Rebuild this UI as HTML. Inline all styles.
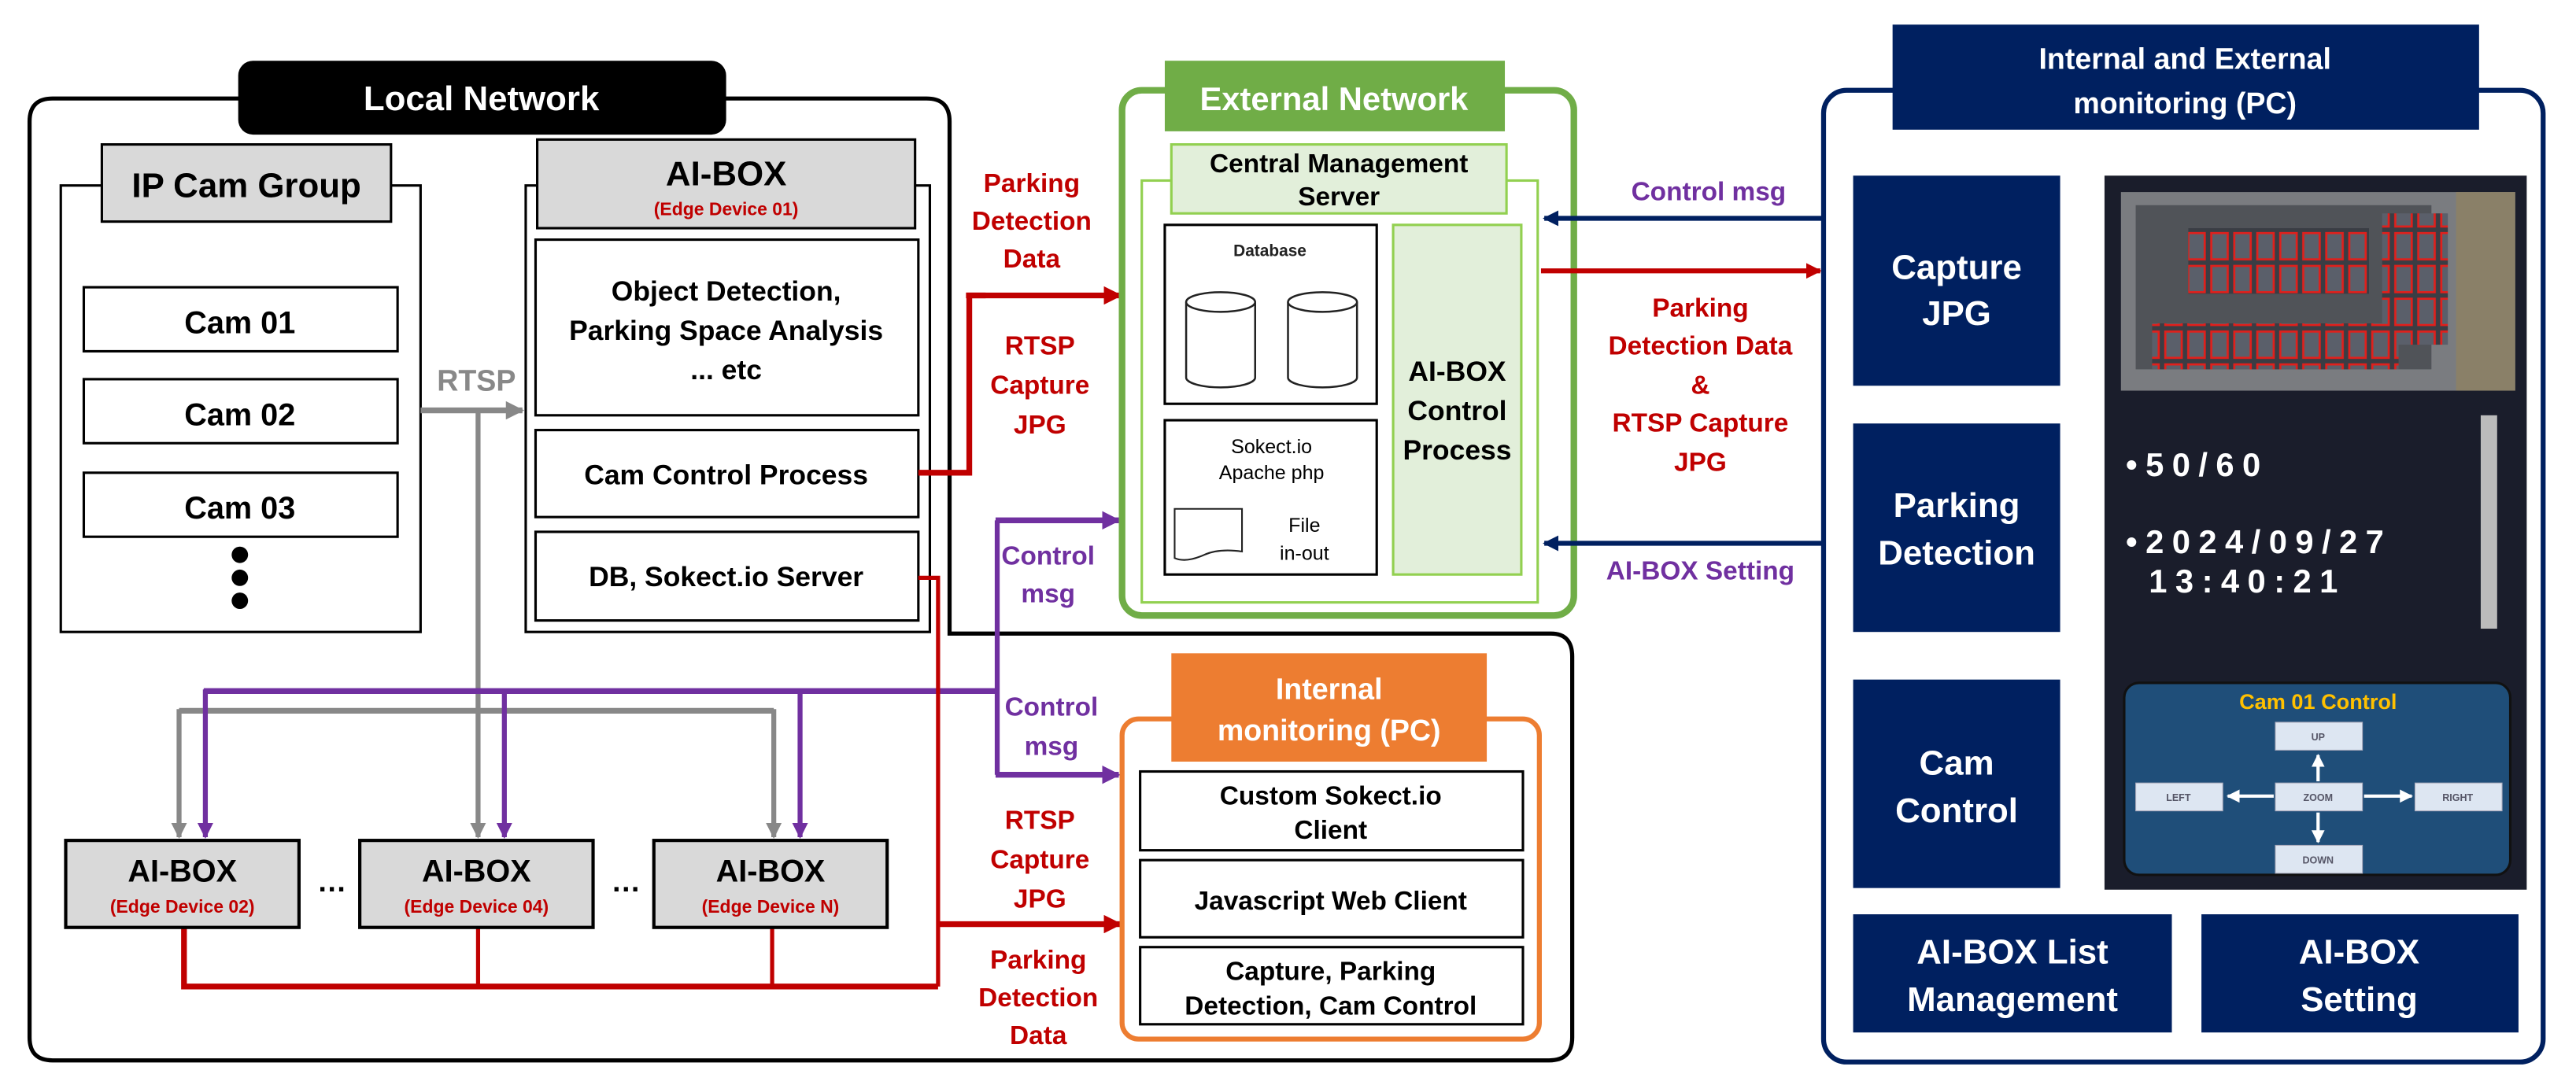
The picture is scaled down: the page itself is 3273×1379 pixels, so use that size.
<!DOCTYPE html>
<html><head><meta charset="utf-8"><style>
html,body{margin:0;padding:0;background:#fff;}
svg{display:block;}
text{font-family:"Liberation Sans","DejaVu Sans",sans-serif;font-weight:bold;}
</style></head><body>
<svg width="3273" height="1379" viewBox="0 0 1568 661" preserveAspectRatio="none" xmlns="http://www.w3.org/2000/svg">
<defs>
<marker id="ar" viewBox="0 0 10 10" refX="9" refY="5" markerWidth="3.2" markerHeight="3.2" orient="auto"><path d="M0,0L10,5L0,10z" fill="#c00000"/></marker>
<marker id="ap" viewBox="0 0 10 10" refX="9" refY="5" markerWidth="3.2" markerHeight="3.2" orient="auto"><path d="M0,0L10,5L0,10z" fill="#7030a0"/></marker>
<marker id="ag" viewBox="0 0 10 10" refX="9" refY="5" markerWidth="3.2" markerHeight="3.2" orient="auto"><path d="M0,0L10,5L0,10z" fill="#888"/></marker>
<marker id="an" viewBox="0 0 10 10" refX="9" refY="5" markerWidth="3.2" markerHeight="3.2" orient="auto"><path d="M0,0L10,5L0,10z" fill="#002060"/></marker>
<marker id="aw" viewBox="0 0 10 10" refX="9" refY="5" markerWidth="4" markerHeight="4" orient="auto"><path d="M0,0L10,5L0,10z" fill="#fff"/></marker>
<pattern id="cars" width="14" height="20" patternUnits="userSpaceOnUse"><rect width="14" height="20" fill="#3a3d44"/><rect x="2" y="2" width="10" height="16" fill="#5a5f6a" stroke="#e0201c" stroke-width="1.3"/></pattern>
</defs>

<!-- Local network outline -->
<path d="M32,60 H564 Q578,60 578,74 V386 H944 Q957,386 957,400 V632 Q957,646 943,646 H32 Q18,646 18,632 V74 Q18,60 32,60 Z" fill="none" stroke="#000" stroke-width="2.5"/>
<rect x="145" y="37" width="297" height="45" rx="9" fill="#000"/>
<text x="293" y="67" font-size="21" fill="#fff" text-anchor="middle">Local Network</text>

<!-- IP Cam group -->
<rect x="37" y="113" width="219" height="272" fill="#fff" stroke="#000" stroke-width="1.5"/>
<rect x="62" y="88" width="176" height="47" fill="#d9d9d9" stroke="#000" stroke-width="1.5"/>
<text x="150" y="120" font-size="21" text-anchor="middle">IP Cam Group</text>
<rect x="51" y="175" width="191" height="39" fill="#fff" stroke="#000" stroke-width="1.5"/>
<text x="146" y="203" font-size="19" text-anchor="middle">Cam 01</text>
<rect x="51" y="231" width="191" height="39" fill="#fff" stroke="#000" stroke-width="1.5"/>
<text x="146" y="259" font-size="19" text-anchor="middle">Cam 02</text>
<rect x="51" y="288" width="191" height="39" fill="#fff" stroke="#000" stroke-width="1.5"/>
<text x="146" y="316" font-size="19" text-anchor="middle">Cam 03</text>
<circle cx="146" cy="338" r="5"/><circle cx="146" cy="352" r="5"/><circle cx="146" cy="366" r="5"/>

<!-- AI-BOX main -->
<rect x="320" y="113" width="246" height="272" fill="#fff" stroke="#000" stroke-width="1.5"/>
<rect x="327" y="85" width="230" height="54" fill="#d9d9d9" stroke="#000" stroke-width="1.5"/>
<text x="442" y="113" font-size="21" text-anchor="middle">AI-BOX</text>
<text x="442" y="131" font-size="11" fill="#c00000" text-anchor="middle">(Edge Device 01)</text>
<rect x="326" y="146" width="233" height="107" fill="#fff" stroke="#000" stroke-width="1.5"/>
<text x="442" y="183" font-size="17" text-anchor="middle">Object Detection,</text>
<text x="442" y="207" font-size="17" text-anchor="middle">Parking Space Analysis</text>
<text x="442" y="231" font-size="17" text-anchor="middle">... etc</text>
<rect x="326" y="262" width="233" height="53" fill="#fff" stroke="#000" stroke-width="1.5"/>
<text x="442" y="295" font-size="17" text-anchor="middle">Cam Control Process</text>
<rect x="326" y="324" width="233" height="54" fill="#fff" stroke="#000" stroke-width="1.5"/>
<text x="442" y="357" font-size="17" text-anchor="middle">DB, Sokect.io Server</text>

<!-- RTSP gray -->
<text x="290" y="238" font-size="18" fill="#888" text-anchor="middle">RTSP</text>
<line x1="256" y1="250" x2="318" y2="250" stroke="#888" stroke-width="3.5" marker-end="url(#ag)"/>
<path d="M291,250 V433" fill="none" stroke="#888" stroke-width="3"/>
<path d="M109,433 H471" fill="none" stroke="#888" stroke-width="3.5"/>
<line x1="109" y1="432" x2="109" y2="510" stroke="#888" stroke-width="3" marker-end="url(#ag)"/>
<line x1="291" y1="433" x2="291" y2="510" stroke="#888" stroke-width="3" marker-end="url(#ag)"/>
<line x1="471" y1="432" x2="471" y2="510" stroke="#888" stroke-width="3" marker-end="url(#ag)"/>

<!-- Purple -->
<line x1="607" y1="472" x2="607" y2="317" stroke="#7030a0" stroke-width="3"/>
<line x1="606" y1="317" x2="681" y2="317" stroke="#7030a0" stroke-width="3.5" marker-end="url(#ap)"/>
<line x1="606" y1="472" x2="681" y2="472" stroke="#7030a0" stroke-width="3.5" marker-end="url(#ap)"/>
<path d="M124,421 H607" fill="none" stroke="#7030a0" stroke-width="3.5"/>
<line x1="125" y1="420" x2="125" y2="510" stroke="#7030a0" stroke-width="3" marker-end="url(#ap)"/>
<line x1="307" y1="420" x2="307" y2="510" stroke="#7030a0" stroke-width="3" marker-end="url(#ap)"/>
<line x1="487" y1="420" x2="487" y2="510" stroke="#7030a0" stroke-width="3" marker-end="url(#ap)"/>

<!-- Red -->
<path d="M559,288 H590 V180 H600" fill="none" stroke="#c00000" stroke-width="3.5"/>
<line x1="588" y1="180" x2="682" y2="180" stroke="#c00000" stroke-width="3.5" marker-end="url(#ar)"/>
<path d="M559,352 H571 V601" fill="none" stroke="#c00000" stroke-width="2.5"/>
<path d="M112,565 V601 H571" fill="none" stroke="#c00000" stroke-width="3.5"/>
<line x1="291" y1="565" x2="291" y2="601" stroke="#c00000" stroke-width="2.5"/>
<line x1="470" y1="565" x2="470" y2="601" stroke="#c00000" stroke-width="2.5"/>
<line x1="570" y1="563" x2="682" y2="563" stroke="#c00000" stroke-width="3.5" marker-end="url(#ar)"/>

<!-- Edge boxes -->
<rect x="40" y="512" width="142" height="53" fill="#d9d9d9" stroke="#000" stroke-width="2"/>
<text x="111" y="537" font-size="19" text-anchor="middle">AI-BOX</text>
<text x="111" y="556" font-size="11" fill="#c00000" text-anchor="middle">(Edge Device 02)</text>
<rect x="219" y="512" width="142" height="53" fill="#d9d9d9" stroke="#000" stroke-width="2"/>
<text x="290" y="537" font-size="19" text-anchor="middle">AI-BOX</text>
<text x="290" y="556" font-size="11" fill="#c00000" text-anchor="middle">(Edge Device 04)</text>
<rect x="398" y="512" width="142" height="53" fill="#d9d9d9" stroke="#000" stroke-width="2"/>
<text x="469" y="537" font-size="19" text-anchor="middle">AI-BOX</text>
<text x="469" y="556" font-size="11" fill="#c00000" text-anchor="middle">(Edge Device N)</text>
<text x="202" y="543" font-size="18" text-anchor="middle">…</text>
<text x="381" y="543" font-size="18" text-anchor="middle">…</text>

<!-- Labels between -->
<g font-size="16" fill="#c00000" text-anchor="middle">
<text x="628" y="117">Parking</text><text x="628" y="140">Detection</text><text x="628" y="163">Data</text>
<text x="633" y="216">RTSP</text><text x="633" y="240">Capture</text><text x="633" y="264">JPG</text>
<text x="633" y="505">RTSP</text><text x="633" y="529">Capture</text><text x="633" y="553">JPG</text>
<text x="632" y="590">Parking</text><text x="632" y="613">Detection</text><text x="632" y="636">Data</text>
</g>
<g font-size="16" fill="#7030a0" text-anchor="middle">
<text x="638" y="344">Control</text><text x="638" y="367">msg</text>
<text x="640" y="436">Control</text><text x="640" y="460">msg</text>
</g>

<!-- External Network -->
<rect x="683" y="55" width="275" height="320" rx="12" fill="#fff" stroke="#70ad47" stroke-width="4"/>
<rect x="709" y="37" width="207" height="43" fill="#70ad47"/>
<text x="812" y="67" font-size="20" fill="#fff" text-anchor="middle">External Network</text>
<rect x="695" y="110" width="241" height="257" fill="none" stroke="#92d050" stroke-width="1.5"/>
<rect x="713" y="88" width="204" height="42" fill="#e2efda" stroke="#92d050" stroke-width="1.5"/>
<text x="815" y="105" font-size="16" text-anchor="middle">Central Management</text>
<text x="815" y="125" font-size="16" text-anchor="middle">Server</text>
<rect x="709" y="137" width="129" height="109" fill="#fff" stroke="#000" stroke-width="1.5"/>
<text x="773" y="156" font-size="10" fill="#222" text-anchor="middle">Database</text>
<g fill="#fff" stroke="#222" stroke-width="1.2">
<path d="M722,184 V230 A21,6 0 0 0 764,230 V184"/><ellipse cx="743" cy="184" rx="21" ry="6"/>
<path d="M784,184 V230 A21,6 0 0 0 826,230 V184"/><ellipse cx="805" cy="184" rx="21" ry="6"/>
</g>
<rect x="709" y="256" width="129" height="94" fill="#fff" stroke="#000" stroke-width="1.5"/>
<text x="774" y="276" font-size="12" font-weight="normal" text-anchor="middle" style="font-weight:normal">Sokect.io</text>
<text x="774" y="292" font-size="12" text-anchor="middle" style="font-weight:normal">Apache php</text>
<path d="M715,310 H756 V336 Q742,334 733,338 Q722,343 715,340 Z" fill="#fff" stroke="#222" stroke-width="1"/>
<text x="794" y="324" font-size="12" text-anchor="middle" style="font-weight:normal">File</text>
<text x="794" y="341" font-size="12" text-anchor="middle" style="font-weight:normal">in-out</text>
<rect x="848" y="137" width="78" height="213" fill="#e2efda" stroke="#92d050" stroke-width="1.5"/>
<text x="887" y="232" font-size="17" text-anchor="middle">AI-BOX</text>
<text x="887" y="256" font-size="17" text-anchor="middle">Control</text>
<text x="887" y="280" font-size="17" text-anchor="middle">Process</text>

<!-- right arrows -->
<line x1="1110" y1="133" x2="940" y2="133" stroke="#002060" stroke-width="3" marker-end="url(#an)"/>
<line x1="938" y1="165" x2="1108" y2="165" stroke="#c00000" stroke-width="3" marker-end="url(#ar)"/>
<line x1="1110" y1="331" x2="940" y2="331" stroke="#002060" stroke-width="3" marker-end="url(#an)"/>
<text x="1040" y="122" font-size="16" fill="#7030a0" text-anchor="middle">Control msg</text>
<g font-size="16" fill="#c00000" text-anchor="middle">
<text x="1035" y="193">Parking</text><text x="1035" y="216">Detection Data</text><text x="1035" y="240">&amp;</text>
<text x="1035" y="263">RTSP Capture</text><text x="1035" y="287">JPG</text>
</g>
<text x="1035" y="353" font-size="16" fill="#7030a0" text-anchor="middle">AI-BOX Setting</text>

<!-- Internal monitoring -->
<rect x="683" y="438" width="254" height="195" rx="10" fill="#fff" stroke="#ed7d31" stroke-width="3"/>
<rect x="713" y="398" width="192" height="66" fill="#ed7d31"/>
<text x="809" y="426" font-size="18" fill="#fff" text-anchor="middle">Internal</text>
<text x="809" y="451" font-size="18" fill="#fff" text-anchor="middle">monitoring (PC)</text>
<rect x="694" y="470" width="233" height="48" fill="#fff" stroke="#000" stroke-width="1.5"/>
<text x="810" y="490" font-size="16" text-anchor="middle">Custom Sokect.io</text>
<text x="810" y="511" font-size="16" text-anchor="middle">Client</text>
<rect x="694" y="524" width="233" height="47" fill="#fff" stroke="#000" stroke-width="1.5"/>
<text x="810" y="554" font-size="16" text-anchor="middle">Javascript Web Client</text>
<rect x="694" y="577" width="233" height="47" fill="#fff" stroke="#000" stroke-width="1.5"/>
<text x="810" y="597" font-size="16" text-anchor="middle">Capture, Parking</text>
<text x="810" y="618" font-size="16" text-anchor="middle">Detection, Cam Control</text>

<!-- Right panel -->
<rect x="1110" y="55" width="438" height="592" rx="14" fill="#fff" stroke="#002060" stroke-width="3"/>
<rect x="1152" y="15" width="357" height="64" fill="#002060"/>
<text x="1330" y="42" font-size="18" fill="#fff" text-anchor="middle">Internal and External</text>
<text x="1330" y="69" font-size="18" fill="#fff" text-anchor="middle">monitoring (PC)</text>
<g fill="#002060">
<rect x="1128" y="107" width="126" height="128"/>
<rect x="1128" y="258" width="126" height="127"/>
<rect x="1128" y="414" width="126" height="127"/>
<rect x="1128" y="557" width="194" height="72"/>
<rect x="1340" y="557" width="193" height="72"/>
</g>
<g font-size="21" fill="#fff" text-anchor="middle">
<text x="1191" y="170">Capture</text><text x="1191" y="198">JPG</text>
<text x="1191" y="315">Parking</text><text x="1191" y="344">Detection</text>
<text x="1191" y="472">Cam</text><text x="1191" y="501">Control</text>
<text x="1225" y="587">AI-BOX List</text><text x="1225" y="616">Management</text>
<text x="1436" y="587">AI-BOX</text><text x="1436" y="616">Setting</text>
</g>
<rect x="1281" y="107" width="257" height="435" fill="#1a1d2b"/>
<rect x="1291" y="117" width="240" height="121" fill="#7a7c80"/>
<rect x="1300" y="125" width="180" height="100" fill="#505358"/>
<rect x="1332" y="139" width="110" height="40" fill="url(#cars)"/>
<rect x="1310" y="197" width="150" height="28" fill="url(#cars)"/>
<rect x="1450" y="130" width="40" height="80" fill="url(#cars)"/>
<rect x="1495" y="117" width="36" height="121" fill="#8a8068"/>
<g font-size="20" fill="#fff" style="letter-spacing:5px">
<text x="1294" y="290">•50/60</text>
<text x="1294" y="337">•2024/09/27</text>
<text x="1308" y="361">13:40:21</text>
</g>
<rect x="1510" y="253" width="10" height="130" fill="#bbb"/>
<rect x="1293" y="416" width="235" height="117" rx="9" fill="#1f4e79" stroke="#111" stroke-width="1.5"/>
<text x="1411" y="432" font-size="13" fill="#ffc000" text-anchor="middle">Cam 01 Control</text>
<g fill="#dde6f2" stroke="#aab" stroke-width="0.5">
<rect x="1385" y="440" width="53" height="17"/><rect x="1385" y="477" width="53" height="17"/>
<rect x="1385" y="515" width="53" height="17"/><rect x="1300" y="477" width="53" height="17"/>
<rect x="1470" y="477" width="53" height="17"/>
</g>
<g font-size="6" fill="#556" text-anchor="middle">
<text x="1411" y="451">UP</text><text x="1411" y="488">ZOOM</text><text x="1411" y="526">DOWN</text>
<text x="1326" y="488">LEFT</text><text x="1496" y="488">RIGHT</text>
</g>
<g stroke="#fff" stroke-width="2">
<line x1="1411" y1="476" x2="1411" y2="460" marker-end="url(#aw)"/>
<line x1="1411" y1="495" x2="1411" y2="513" marker-end="url(#aw)"/>
<line x1="1384" y1="485" x2="1356" y2="485" marker-end="url(#aw)"/>
<line x1="1439" y1="485" x2="1468" y2="485" marker-end="url(#aw)"/>
</g>
</svg>
</body></html>
